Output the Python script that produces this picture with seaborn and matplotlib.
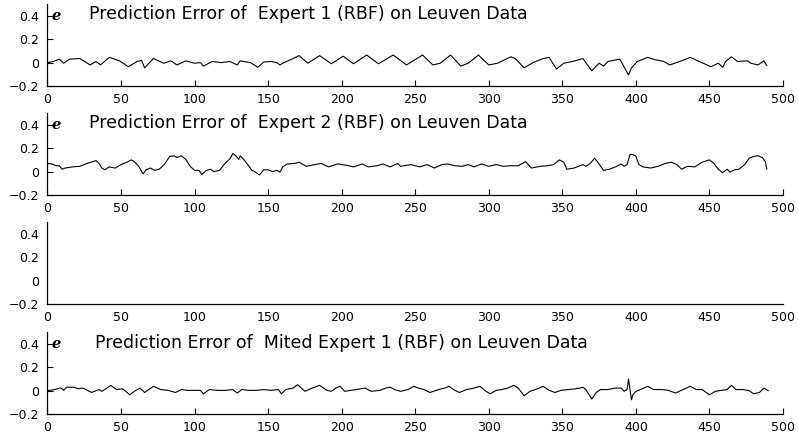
import numpy as np
import pandas as pd
import seaborn as sns
import matplotlib
matplotlib.use("Agg")
import matplotlib.pyplot as plt

# prediction error of expert 1 (sample index, error)
t_exp1 = [0, 4, 8, 11, 15, 22, 29, 33, 36, 42, 49, 55, 61, 64, 66, 72, 79, 84, 88, 94,
          100, 104, 106, 112, 118, 124, 129, 131, 138, 143, 147, 152, 156, 158, 160, 167,
          171, 177, 185, 193, 201, 208, 217, 225, 235, 244, 255, 262, 267, 274, 281, 286,
          293, 300, 306, 315, 318, 324, 330, 337, 341, 346, 351, 357, 364, 370, 375, 378,
          381, 389, 393, 395, 397, 401, 408, 413, 419, 423, 431, 437, 443, 451, 456, 459,
          461, 465, 469, 476, 478, 483, 487, 489]
e_exp1 = [0.0, 0.01, 0.03, -0.005, 0.03, 0.035, -0.02, 0.01, -0.02, 0.045, 0.015, -0.035,
          0.01, 0.02, -0.045, 0.035, -0.005, 0.015, -0.02, 0.015, -0.005, 0.0, -0.03, 0.01,
          0.0, 0.01, -0.02, 0.015, 0.0, -0.04, 0.005, 0.01, 0.0, -0.02, -0.005, 0.035,
          0.06, -0.005, 0.06, -0.01, 0.055, -0.01, 0.065, -0.01, 0.065, -0.02, 0.065, -0.02,
          -0.005, 0.065, -0.03, -0.005, 0.065, -0.02, -0.005, 0.05, 0.035, -0.045, 0.0,
          0.035, 0.045, -0.055, -0.005, 0.01, 0.035, -0.07, -0.005, -0.03, 0.01, 0.03,
          -0.06, -0.105, -0.045, 0.01, 0.045, 0.025, 0.01, -0.02, 0.015, 0.045, 0.01,
          -0.035, -0.005, -0.04, 0.01, 0.05, 0.01, 0.015, -0.005, -0.02, 0.015, -0.025]

# prediction error of expert 2
t_exp2 = [0, 3, 6, 8, 10, 12, 17, 22, 27, 31, 33, 35, 37, 39, 42, 46, 50, 54, 57, 59, 62,
          65, 67, 70, 73, 76, 80, 83, 86, 88, 91, 94, 97, 100, 103, 105, 108, 111, 113,
          117, 120, 124, 126, 128, 130, 131, 134, 137, 139, 142, 144, 147, 150, 153, 156,
          158, 160, 163, 168, 171, 176, 182, 186, 191, 197, 203, 208, 214, 218, 224, 228,
          233, 238, 240, 247, 253, 258, 263, 268, 272, 277, 282, 286, 290, 295, 300, 305,
          310, 315, 320, 325, 329, 335, 340, 344, 348, 351, 353, 358, 364, 366, 369, 372,
          375, 378, 382, 387, 390, 392, 394, 396, 398, 400, 402, 405, 410, 415, 420, 424,
          428, 431, 435, 440, 445, 450, 453, 456, 459, 462, 464, 467, 470, 474, 477, 480,
          483, 486, 488, 489]
e_exp2 = [0.07, 0.065, 0.05, 0.05, 0.02, 0.03, 0.04, 0.045, 0.07, 0.085, 0.095, 0.07,
          0.03, 0.015, 0.04, 0.03, 0.06, 0.08, 0.1, 0.085, 0.045, -0.02, 0.015, 0.03, 0.01,
          0.02, 0.07, 0.13, 0.135, 0.12, 0.135, 0.105, 0.045, 0.01, 0.01, -0.025, 0.01,
          0.02, 0.0, 0.01, 0.06, 0.11, 0.155, 0.135, 0.105, 0.135, 0.095, 0.045, 0.01,
          -0.01, -0.03, 0.015, 0.015, 0.0, 0.01, -0.005, 0.04, 0.065, 0.07, 0.08, 0.045,
          0.06, 0.07, 0.04, 0.065, 0.055, 0.04, 0.065, 0.04, 0.05, 0.065, 0.04, 0.07,
          0.045, 0.06, 0.04, 0.06, 0.03, 0.06, 0.065, 0.05, 0.045, 0.06, 0.04, 0.065,
          0.045, 0.06, 0.045, 0.05, 0.05, 0.085, 0.03, 0.045, 0.05, 0.06, 0.1, 0.08, 0.02,
          0.03, 0.06, 0.045, 0.07, 0.115, 0.065, 0.01, 0.02, 0.045, 0.065, 0.045, 0.06,
          0.147, 0.147, 0.13, 0.06, 0.04, 0.03, 0.045, 0.07, 0.08, 0.06, 0.02, 0.045, 0.04,
          0.08, 0.1, 0.07, 0.02, -0.01, 0.02, -0.005, 0.015, 0.02, 0.06, 0.115, 0.13,
          0.135, 0.12, 0.085, 0.02]

# prediction error of the mixed expert
t_mix = [0, 5, 9, 11, 13, 18, 21, 24, 30, 35, 37, 43, 47, 51, 56, 60, 63, 66, 72, 77, 82,
         87, 91, 95, 100, 104, 106, 110, 116, 121, 126, 129, 132, 137, 142, 147, 152, 157,
         159, 162, 167, 170, 175, 180, 185, 190, 193, 196, 199, 202, 206, 210, 216, 220,
         226, 230, 233, 236, 240, 245, 249, 252, 256, 260, 266, 270, 273, 276, 280, 285,
         290, 294, 298, 301, 305, 309, 313, 317, 320, 324, 328, 333, 337, 341, 345, 349,
         354, 358, 362, 364, 366, 370, 373, 376, 381, 386, 390, 392, 394, 395, 396, 397,
         398, 400, 404, 408, 412, 418, 422, 427, 432, 437, 441, 445, 450, 454, 458, 462,
         465, 468, 473, 477, 480, 484, 487, 490]
e_mix = [0.0, 0.01, 0.025, 0.003, 0.03, 0.03, 0.017, 0.023, -0.015, 0.01, -0.005, 0.045,
         0.01, 0.017, -0.035, 0.003, 0.023, -0.015, 0.038, 0.01, 0.003, -0.015, 0.01, 0.003,
         0.003, 0.003, -0.026, 0.01, 0.003, 0.003, 0.01, -0.02, 0.01, 0.003, 0.003, 0.01,
         0.003, 0.01, -0.026, 0.01, 0.023, 0.052, -0.005, 0.023, 0.046, 0.003, -0.005,
         0.023, 0.038, -0.005, 0.003, 0.01, 0.023, -0.005, 0.003, 0.023, 0.03, 0.01,
         -0.005, 0.01, 0.038, 0.023, 0.01, -0.015, 0.01, 0.023, 0.038, 0.01, -0.015, 0.01,
         0.023, 0.038, -0.005, -0.026, 0.003, 0.01, 0.023, 0.046, 0.023, -0.043, -0.005,
         0.015, 0.038, 0.003, -0.015, 0.003, 0.01, 0.015, 0.023, 0.03, 0.01, -0.072,
         -0.015, 0.01, 0.01, 0.023, 0.023, -0.005, 0.01, 0.101, 0.01, -0.078, -0.035,
         -0.005, 0.015, 0.038, 0.01, 0.01, 0.003, -0.02, 0.01, 0.038, 0.01, 0.01, -0.035,
         -0.005, 0.003, 0.01, 0.046, 0.01, 0.01, 0.0, -0.026, -0.015, 0.023, 0.0]

titles = ["Prediction Error of  Expert 1 (RBF) on Leuven Data",
          "Prediction Error of  Expert 2 (RBF) on Leuven Data",
          None,
          "Prediction Error of  Mited Expert 1 (RBF) on Leuven Data"]
x_ticks = [0, 50, 100, 150, 200, 250, 300, 350, 400, 450, 500]
y_ticks = [-0.2, 0, 0.2, 0.4]
y_labels = ["\u22120.2", "0", "0.2", "0.4"]

sns.set_style("ticks")
plt.rcParams['font.family'] = ['DejaVu Sans']
plt.rcParams['text.color'] = 'black'

fig = plt.figure(figsize=(7.98, 4.34), dpi=100)
bottoms = [0.802, 0.551, 0.2995, 0.046]
series = [(t_exp1, e_exp1), (t_exp2, e_exp2), None, (t_mix, e_mix)]
title_x = [28, 28, None, 32]

for i in range(4):
    ax = fig.add_axes([0.0595, bottoms[i], 0.9217, 0.188])
    if series[i] is not None:
        df = pd.DataFrame({"t": series[i][0], "e": series[i][1]})
        sns.lineplot(data=df, x="t", y="e", ax=ax, color="black", linewidth=0.8)
        ax.text(3, 0.4, "e", family="DejaVu Serif", style="italic", weight="bold",
                fontsize=10.5, va="center", ha="left", color="black")
        ax.text(title_x[i], 0.37, titles[i], fontsize=12.5, va="baseline", ha="left",
                color="black")
    ax.set_xlim(0, 500)
    ax.set_ylim(-0.2, 0.5)
    ax.set_xticks(x_ticks)
    ax.set_yticks(y_ticks)
    ax.set_yticklabels(y_labels)
    ax.set_xlabel("")
    ax.set_ylabel("")
    tick_len = 0 if series[i] is None else 4
    ax.tick_params(direction="in", length=tick_len, width=0.8, labelsize=9,
                   colors="black")
    ax.tick_params(axis="x", pad=5)
    ax.tick_params(axis="y", pad=6)
    sns.despine(ax=ax)
    for s in ["left", "bottom"]:
        ax.spines[s].set_linewidth(0.9)
        ax.spines[s].set_color("black")

fig.savefig("out.png", dpi=100)
